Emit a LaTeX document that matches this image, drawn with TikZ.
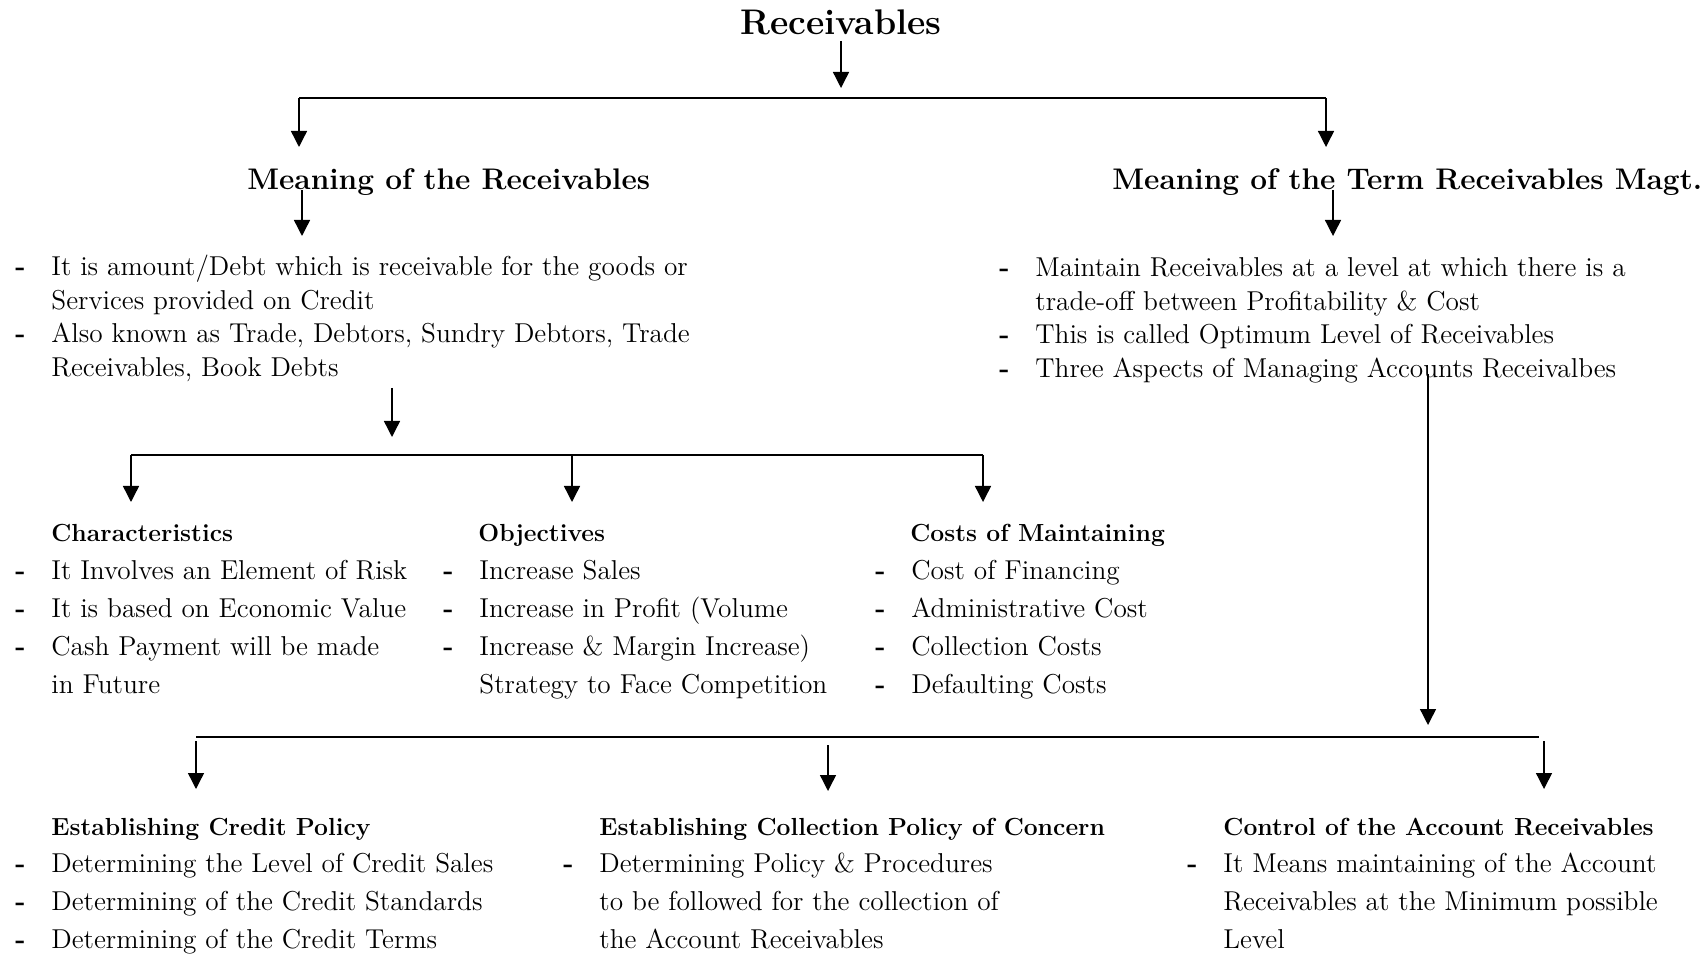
\documentclass[tikz,border=0pt]{standalone}
\usepackage{fontspec}
\usetikzlibrary{arrows.meta}

\newcommand{\bul}{\textbf{-}}
\newcommand{\itemlist}[1]{\begin{tabular}[t]{@{}p{18pt}@{}l@{}}#1\end{tabular}}

\begin{document}
\begin{tikzpicture}[x=0.5pt, y=-0.5pt,
  arr/.style={-{Triangle[length=8pt,width=8pt]}, line width=0.7pt},
  bar/.style={line width=0.7pt},
  txt/.style={anchor=base west, inner sep=0pt, font=\fontsize{13.65}{16.7}\selectfont},
  txtwide/.style={txt, font=\fontsize{13.65}{19}\selectfont},
  head/.style={anchor=base west, inner sep=0pt, font=\fontsize{14.9}{18}\selectfont\bfseries},
  subhead/.style={anchor=base west, inner sep=0pt, font=\fontsize{12.35}{15}\selectfont\bfseries},
  title/.style={anchor=base, inner sep=0pt, font=\fontsize{17.8}{21}\selectfont\bfseries}]

\useasboundingbox (0,0) rectangle (1701,956);

% top
\node[title] (recv) at (841,35) {Receivables};

\coordinate (t0) at (841,88);
\coordinate (tbl) at (299,98);
\coordinate (tbr) at (1326,98);
\coordinate (t1) at (299,147);
\coordinate (t2) at (1326,147);

\draw[arr] ([yshift=-2.5pt]recv.south) -- (t0);
\draw[bar] (tbl) -- (tbr);
\draw[arr] (tbl) -- (t1);
\draw[arr] (tbr) -- (t2);

\node[head] (meaning) at (247,190) {Meaning of the Receivables};
\node[head] (magt) at (1112,190) {Meaning of the Term Receivables Magt.};

\coordinate (h1) at (302,190);
\coordinate (h1e) at (302,236);
\coordinate (h2) at (1333,190);
\coordinate (h2e) at (1333,236);
\draw[arr] (h1) -- (h1e);
\draw[arr] (h2) -- (h2e);

\node[txt] (mlist) at (15,276) {\itemlist{%
\bul & It is amount/Debt which is receivable for the goods or\\
     & Services provided on Credit\\
\bul & Also known as Trade, Debtors, Sundry Debtors, Trade\\
     & Receivables, Book Debts}};

\node[txt] (tlist) at (999,277) {\itemlist{%
\bul & Maintain Receivables at a level at which there is a\\
     & trade-off between Profitability \& Cost\\
\bul & This is called Optimum Level of Receivables\\
\bul & Three Aspects of Managing Accounts Receivalbes}};

% middle branch
\coordinate (m0) at (392,388);
\coordinate (m0e) at (392,437);
\coordinate (mbl) at (131,455);
\coordinate (mbc) at (572,455);
\coordinate (mbr) at (983,455);
\coordinate (m1) at (131,502);
\coordinate (m2) at (572,502);
\coordinate (m3) at (983,502);

\draw[arr] (m0) -- (m0e);
\draw[bar] (mbl) -- (mbr);
\draw[arr] (mbl) -- (m1);
\draw[arr] (mbc) -- (m2);
\draw[arr] (mbr) -- (m3);

\node[subhead] (chars) at (51,541) {Characteristics};
\node[subhead] (objs) at (478,541) {Objectives};
\node[subhead] (costs) at (910,541) {Costs of Maintaining};

\node[txtwide] (charlist) at (15,579) {\itemlist{%
\bul & It Involves an Element of Risk\\
\bul & It is based on Economic Value\\
\bul & Cash Payment will be made\\
     & in Future}};

\node[txtwide] (objlist) at (443,579) {\itemlist{%
\bul & Increase Sales\\
\bul & Increase in Profit (Volume\\
\bul & Increase \& Margin Increase)\\
     & Strategy to Face Competition}};

\node[txtwide] (costlist) at (875,579) {\itemlist{%
\bul & Cost of Financing\\
\bul & Administrative Cost\\
\bul & Collection Costs\\
\bul & Defaulting Costs}};

% bottom branch
\coordinate (b0) at (1428,374);
\coordinate (b0e) at (1428,725);
\coordinate (bbl) at (196,737);
\coordinate (bbr) at (1539,737);
\coordinate (b1) at (196,741);
\coordinate (b1e) at (196,789);
\coordinate (b2) at (828,745);
\coordinate (b2e) at (828,791);
\coordinate (b3) at (1544,741);
\coordinate (b3e) at (1544,789);

\draw[arr] (b0) -- (b0e);
\draw[bar] (bbl) -- (bbr);
\draw[arr] (b1) -- (b1e);
\draw[arr] (b2) -- (b2e);
\draw[arr] (b3) -- (b3e);

\node[subhead] (credit) at (51,835) {Establishing Credit Policy};
\node[subhead] (collect) at (599,835) {Establishing Collection Policy of Concern};
\node[subhead] (control) at (1223,835) {Control of the Account Receivables};

\node[txtwide] (creditlist) at (15,872.5) {\itemlist{%
\bul & Determining the Level of Credit Sales\\
\bul & Determining of the Credit Standards\\
\bul & Determining of the Credit Terms}};

\node[txtwide] (collectlist) at (563,872.5) {\itemlist{%
\bul & Determining Policy \& Procedures\\
     & to be followed for the collection of\\
     & the Account Receivables}};

\node[txtwide] (controllist) at (1187,872.5) {\itemlist{%
\bul & It Means maintaining of the Account\\
     & Receivables at the Minimum possible\\
     & Level}};

\end{tikzpicture}
\end{document}
